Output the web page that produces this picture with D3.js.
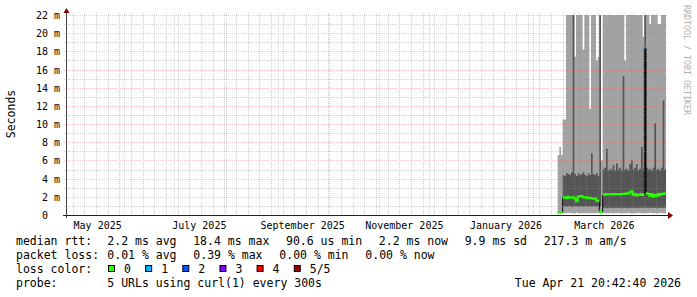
<!DOCTYPE html>
<html><head><meta charset="utf-8">
<script src="https://cdn.jsdelivr.net/npm/d3@7/dist/d3.min.js"></script>
<style>
html,body{margin:0;padding:0;background:#fff;}
svg{display:block;}
text{font-family:"DejaVu Sans Mono",monospace;}
</style></head><body>
<svg id="c" width="697" height="297"></svg>
<script>
// ---------- data ----------
const rangeStart = "2025-04-27";
const rangeEnd = "2026-04-22";
const firstDay = "2026-02-16";           // first day with data, one value per day
const majorGridFrom = "2025-06-01";

// light smoke (outer range), ms
const smokeLo = [0.2,0.2,0.25,0.2,0.2,0.2,0.25,0.2,0.2,0.2,0.2,0.25,0.2,0.2,0.2,0.2,0.2,0.25,0.2,0.2,0.2,0.2,0.2,0.25,0.2,0.2,0.2,0.25,0.2,0.2,0.2,0.25,0.2,0.2,0.2,0.2,0.25,0.2,0.2,0.2,0.2,0.2,0.25,0.2,0.2,0.2,0.2,0.2,0.25,0.2,0.2,0.2,0.2,0.2,0.2,0.25,0.2,0.2,0.2,0.2,0.2,0.25,0.2,0.2,0.2];
const smokeHi = [6.6,7.5,6.6,10.5,10.5,24,24,24,24,24,17.4,24,24,24,24,18.2,24,24,24,11.7,24,24,24,17.0,17.4,24,6.0,24,24,24,24,24,24,24,24,24,24,24,24,24,17.0,24,24,24,24,24,24,24,24,24,24,19.6,24,24,24,21.0,24,24,24,24,21.0,21.0,24,24,24];
// dark smoke (inner range), ms
const darkLo = [null,null,null,0.95,0.95,0.9,0.95,0.95,0.9,0.9,0.95,0.95,0.9,0.95,0.95,0.9,0.95,0.95,0.9,0.95,0.9,0.95,0.95,0.9,0.95,0.9,null,0.8,0.8,0.75,0.8,0.8,0.8,0.75,0.8,0.8,0.8,0.75,0.8,0.8,0.8,0.8,0.75,0.8,0.8,0.8,0.8,0.75,0.8,0.8,0.8,0.8,0.8,0.8,0.75,0.8,0.8,0.8,0.8,0.75,0.8,0.8,0.8,0.8,0.8];
const darkHi = [null,null,null,4.4,4.3,4.6,4.5,4.4,4.7,24,4.5,4.3,4.6,4.4,4.5,4.7,4.4,4.3,4.6,4.4,6.8,4.5,4.4,4.6,4.3,24,null,5.0,5.2,7.3,4.9,5.1,5.0,5.5,4.9,5.7,5.0,5.2,4.9,15.3,5.0,5.1,4.9,5.6,6.0,5.0,5.2,5.6,4.9,5.1,7.5,5.0,24,5.2,5.0,5.1,4.9,5.2,10.1,5.0,5.1,4.9,5.2,12.6,5.0];
// densest smoke core, ms
const coreLo = [null,null,null,null,null,null,null,null,null,null,null,null,null,null,null,null,null,null,null,null,null,null,null,null,null,null,null,null,null,null,null,null,null,null,null,null,null,null,null,null,null,null,null,null,null,null,null,null,null,null,null,null,2.5,null,null,null,null,null,null,null,null,null,null,null,null];
const coreHi = [null,null,null,null,null,null,null,null,null,null,null,null,null,null,null,null,null,null,null,null,null,null,null,null,null,null,null,null,null,null,null,null,null,null,null,null,null,null,null,null,null,null,null,null,null,null,null,null,null,null,null,null,18.4,null,null,null,null,null,null,null,null,null,null,null,null];
// median rtt, ms
const median = [0.3,0.25,0.3,1.9,1.95,1.85,2.0,1.9,1.9,1.95,1.8,1.5,2.0,2.1,2.05,1.95,1.9,1.95,1.85,1.9,1.85,1.8,1.85,1.6,1.5,0.4,0.3,2.2,2.3,2.25,2.3,2.3,2.25,2.3,2.25,2.3,2.3,2.25,2.3,2.35,2.3,2.4,2.35,2.5,2.6,2.2,2.3,2.15,2.25,2.2,2.3,2.2,18.4,2.4,2.3,2.1,2.3,2.0,2.2,2.1,2.3,2.2,2.35,2.3,2.4];
// loss colour class per day
const lossClass = [0,0,0,0,0,0,0,0,0,0,0,0,0,0,0,0,0,0,0,0,0,0,0,0,0,0,0,0,0,0,0,0,0,0,0,0,0,0,0,0,0,0,0,0,0,0,0,0,0,0,0,0,1,0,0,0,0,0,0,0,0,0,0,0,0];

const yTicks = [0,2,4,6,8,10,12,14,16,18,20,22];
const xLabelMonths = ["2025-05-01","2025-07-01","2025-09-01","2025-11-01","2026-01-01","2026-03-01"];
const xLabelTexts = ["May 2025","July 2025","September 2025","November 2025","January 2026","March 2026"];

const lossNames = ["0","1","2","3","4","5/5"];
const lossColors = ["#26ff00","#00b8ff","#0059ff","#7e00ff","#ff0000","#a10000"];

const rttLabel = "median rtt:";
const rttStats = ["2.2 ms avg","18.4 ms max","90.6 us min","2.2 ms now","9.9 ms sd","217.3 m am/s"];
const lossLabel = "packet loss:";
const lossStats = ["0.01 % avg","0.39 % max","0.00 % min","0.00 % now"];
const colorLabel = "loss color:";
const probeLabel = "probe:";
const probeText = "5 URLs using curl(1) every 300s";
const stampText = "Tue Apr 21 20:42:40 2026";
const yTitle = "Seconds";
const watermark = "RRDTOOL / TOBI OETIKER";

// ---------- layout ----------
const L = 66, R = 666, T = 15, B = 215;
const svg = d3.select("#c");
const utc = s => new Date(s + "T00:00:00Z");
const x = d3.scaleUtc().domain([utc(rangeStart), utc(rangeEnd)]).range([L, R]);
const y = d3.scaleLinear().domain([0, 22]).range([B, T]);
const day0 = utc(firstDay);
const dayStart = i => d3.utcDay.offset(day0, i);

svg.append("rect").attr("width",697).attr("height",297).attr("fill","#fff");
svg.append("clipPath").attr("id","plot").append("rect")
  .attr("x",L).attr("y",T).attr("width",R-L).attr("height",B-T);

// step points (each day spans its full width)
function stepPts(lo, hi, keep) {
  const pts = [];
  median.forEach((_, i) => {
    if (lo[i] == null || hi[i] == null || (keep && !keep(i))) { pts.push(null); return; }
    if (keep && i > 0 && keep(i-1) && Math.abs(median[i]-median[i-1]) > 1) pts.push(null);
    pts.push({t: dayStart(i), lo: lo[i], hi: hi[i]}, {t: dayStart(i+1), lo: lo[i], hi: hi[i]});
  });
  return pts;
}
const area = d3.area().defined(d => d).x(d => x(d.t)).y0(d => y(d.lo)).y1(d => y(d.hi));
const line = d3.line().defined(d => d).x(d => x(d.t)).y(d => y(d.hi));

const g = svg.append("g").attr("clip-path","url(#plot)");
g.append("path").attr("d", area(stepPts(smokeLo, smokeHi))).attr("fill","#a3a3a3");
g.append("path").attr("d", area(stepPts(darkLo, darkHi))).attr("fill","#555555");
g.append("path").attr("d", area(stepPts(coreLo, coreHi))).attr("fill","#1c1c1c");

// ---------- grid ----------
const grid = svg.append("g").attr("fill","none").attr("stroke-width",1).attr("stroke-dasharray","1,1");
const minorCol = "rgba(143,143,143,0.4)", majorCol = "rgba(224,80,80,0.3)";
d3.range(0, 23).forEach(v => {
  const yy = Math.round(y(v)) + 0.5;
  grid.append("line").attr("x1",L-2).attr("x2",R+2).attr("y1",yy).attr("y2",yy)
    .attr("stroke", v % 2 ? minorCol : majorCol);
});
const majors = d3.utcMonth.range(utc(majorGridFrom), x.domain()[1]);
const majorSet = new Set(majors.map(d => +d));
d3.utcThursday.range(x.domain()[0], x.domain()[1]).forEach(d => {
  if (majorSet.has(+d)) return;
  const xx = Math.round(x(d)) + 0.5;
  grid.append("line").attr("x1",xx).attr("x2",xx).attr("y1",T-2).attr("y2",B+2).attr("stroke",minorCol);
});
majors.forEach(d => {
  const xx = Math.round(x(d)) + 0.5;
  grid.append("line").attr("x1",xx).attr("x2",xx).attr("y1",T-2).attr("y2",B+2).attr("stroke",majorCol);
});

// ---------- median ----------
g.append("path").attr("d", line(stepPts(median, median))).attr("fill","none")
  .attr("stroke","#000").attr("stroke-width",1);
lossColors.forEach((c, k) => {
  const pts = stepPts(median, median, i => lossClass[i] === k);
  if (!pts.some(p => p)) return;
  g.append("path").attr("d", line(pts)).attr("fill","none").attr("stroke",c).attr("stroke-width",2);
});

// ---------- axes ----------
svg.append("line").attr("x1",L-3).attr("x2",R+4).attr("y1",B+0.5).attr("y2",B+0.5)
  .attr("stroke","#202020").attr("stroke-width",1.2);
svg.append("line").attr("x1",L+0.5).attr("x2",L+0.5).attr("y1",B+3).attr("y2",T-4)
  .attr("stroke","#404040").attr("stroke-width",1);
svg.append("path").attr("d",`M${R+2},${B-3}L${R+7},${B+0.5}L${R+2},${B+4}Z`).attr("fill","#7f0000");
svg.append("path").attr("d",`M${L-2.5},${T-2}L${L+0.5},${T-7}L${L+3.5},${T-2}Z`).attr("fill","#7f0000");

// y labels
svg.append("g").selectAll("text").data(yTicks).join("text")
  .attr("x", d => d === 0 ? 48 : 60).attr("y", d => Math.round(y(d)) + 4)
  .attr("text-anchor","end").attr("font-size",10).attr("fill","#000")
  .text(d => d === 0 ? "0" : d + " m");

// x labels (centred half a month after the month start)
svg.append("g").selectAll("text").data(xLabelMonths).join("text")
  .attr("x", (d) => x(d3.utcDay.offset(utc(d), 15))).attr("y", 228.5)
  .attr("text-anchor","middle").attr("font-size",10).attr("fill","#000")
  .text((d, i) => xLabelTexts[i]);

// titles
svg.append("text").attr("transform","translate(15,114) rotate(-90)").attr("text-anchor","middle")
  .attr("font-size",11.5).attr("fill","#000").text(yTitle);
svg.append("text").attr("transform","translate(683.5,5) rotate(90)").attr("text-anchor","start")
  .attr("font-size",8.3).attr("fill","#b0b0b0").text(watermark);

// ---------- legend ----------
const leg = svg.append("g").attr("font-size",11.5).attr("fill","#000");
const rttX = [107.3,193.2,286,378.8,464.7,543.7];
const lossX = [107.3,193.3,279.3,365.3];
leg.append("text").attr("x",16).attr("y",244.5).text(rttLabel);
rttStats.forEach((s,i) => leg.append("text").attr("x",rttX[i]).attr("y",244.5).text(s));
leg.append("text").attr("x",16).attr("y",258.5).text(lossLabel);
lossStats.forEach((s,i) => leg.append("text").attr("x",lossX[i]).attr("y",258.5).text(s));
leg.append("text").attr("x",16).attr("y",272.5).text(colorLabel);
lossNames.forEach((n,i) => {
  const bx = 108 + i * 37.15;
  leg.append("rect").attr("x",bx+0.5).attr("y",265.5).attr("width",6).attr("height",6)
    .attr("fill",lossColors[i]).attr("stroke","#000").attr("stroke-width",1);
  leg.append("text").attr("x",bx+16).attr("y",272.5).text(n);
});
leg.append("text").attr("x",16).attr("y",286.5).text(probeLabel);
leg.append("text").attr("x",107.3).attr("y",286.5).text(probeText);
leg.append("text").attr("x",681).attr("y",286.5).attr("text-anchor","end").text(stampText);
</script>
</body></html>
